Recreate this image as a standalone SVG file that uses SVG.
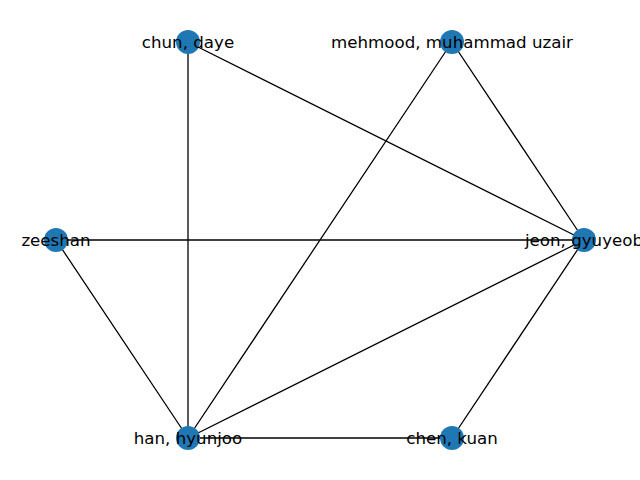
<svg xmlns="http://www.w3.org/2000/svg" width="640" height="480" viewBox="0 0 640 480">
<style>
.e{stroke:#000;stroke-width:1.3;fill:none}
.n{fill:#1f77b4}
.t{font-family:"DejaVu Sans",sans-serif;font-size:16.67px;fill:#000;text-anchor:middle;dominant-baseline:central}
</style>
<rect width="640" height="480" fill="#fff"/>
<g id="edges">
<line class="e" x1="188" y1="42" x2="584" y2="240"/>
<line class="e" x1="188" y1="42" x2="188" y2="438"/>
<line class="e" x1="452" y1="42" x2="584" y2="240"/>
<line class="e" x1="452" y1="42" x2="188" y2="438"/>
<line class="e" x1="56" y1="240" x2="584" y2="240"/>
<line class="e" x1="56" y1="240" x2="188" y2="438"/>
<line class="e" x1="584" y1="240" x2="188" y2="438"/>
<line class="e" x1="584" y1="240" x2="452" y2="438"/>
<line class="e" x1="188" y1="438" x2="452" y2="438"/>
</g>
<g id="node-chun"><circle class="n" cx="188" cy="42" r="12"/><text class="t" x="188" y="42">chun, daye</text></g>
<g id="node-mehmood"><circle class="n" cx="452" cy="42" r="12"/><text class="t" x="452" y="42">mehmood, muhammad uzair</text></g>
<g id="node-zeeshan"><circle class="n" cx="56" cy="240" r="12"/><text class="t" x="56" y="240">zeeshan</text></g>
<g id="node-jeon"><circle class="n" cx="584" cy="240" r="12"/><text class="t" x="584" y="240">jeon, gyuyeob</text></g>
<g id="node-han"><circle class="n" cx="188" cy="438" r="12"/><text class="t" x="188" y="438">han, hyunjoo</text></g>
<g id="node-chen"><circle class="n" cx="452" cy="438" r="12"/><text class="t" x="452" y="438">chen, kuan</text></g>
</svg>
